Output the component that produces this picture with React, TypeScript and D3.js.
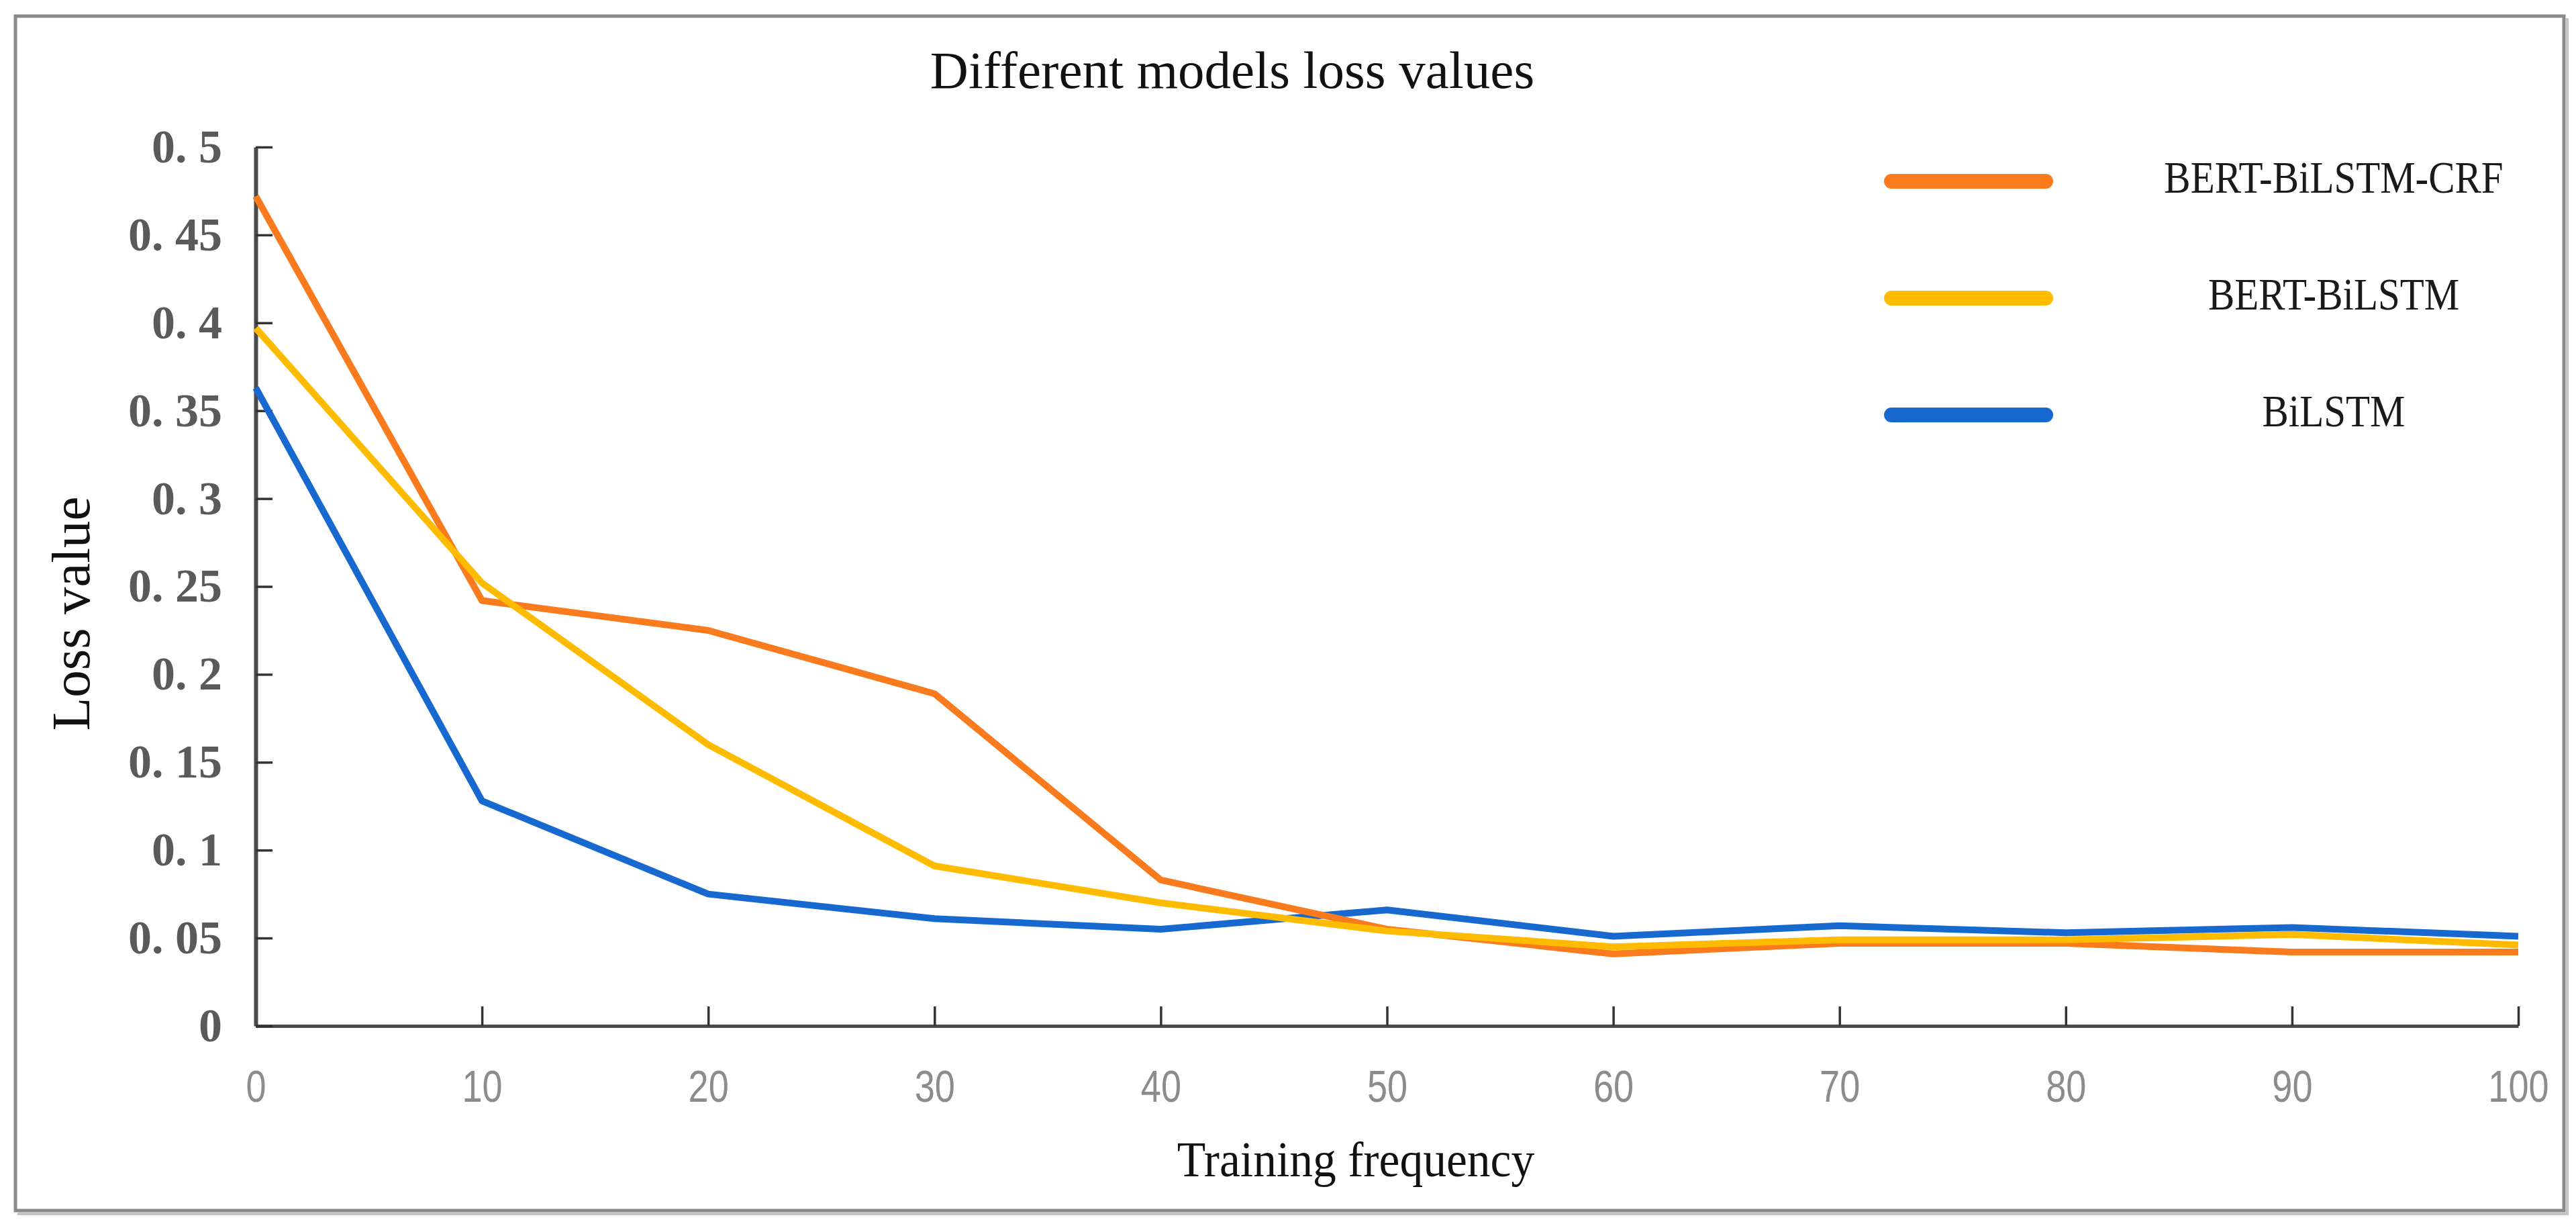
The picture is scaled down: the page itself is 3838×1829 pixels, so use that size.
import { useEffect, useRef } from 'react';
import * as d3 from 'd3';

// Training frequency (x) and loss values
const epochs = [0, 10, 20, 30, 40, 50, 60, 70, 80, 90, 100];
const crfLoss = [0.472, 0.242, 0.225, 0.189, 0.083, 0.055, 0.041, 0.047, 0.047, 0.042, 0.042];
const bertLoss = [0.397, 0.252, 0.16, 0.091, 0.07, 0.054, 0.045, 0.049, 0.049, 0.052, 0.046];
const bilstmLoss = [0.363, 0.128, 0.075, 0.061, 0.055, 0.066, 0.051, 0.057, 0.053, 0.056, 0.051];

const yTicks = [0, 0.05, 0.1, 0.15, 0.2, 0.25, 0.3, 0.35, 0.4, 0.45, 0.5];
const seriesNames = ['BERT-BiLSTM-CRF', 'BERT-BiLSTM', 'BiLSTM'];
const seriesColors = ['#FA7A1E', '#FFBB00', '#1769D0'];

const W = 3838;
const H = 1829;

export default function App() {
  const svgRef = useRef<SVGSVGElement>(null);

  useEffect(() => {
    if (!svgRef.current) return;
    const svg = d3.select(svgRef.current);
    svg.selectAll('*').remove();

    const serif = 'Liberation Serif, Times New Roman, serif';

    // outer frame
    svg.append('rect').attr('x', 0).attr('y', 0).attr('width', W).attr('height', H).attr('fill', '#fff');
    svg.append('rect')
      .attr('x', 23).attr('y', 24).attr('width', 3797).attr('height', 1779)
      .attr('fill', 'none').attr('stroke', '#8a8a8a').attr('stroke-width', 5);
    svg.append('path')
      .attr('d', 'M26,1808H3825V27')
      .attr('fill', 'none').attr('stroke', '#c4c4c4').attr('stroke-width', 4);

    const x = d3.scaleLinear().domain([0, 100]).range([381, 3752]);
    const y = d3.scaleLinear().domain([0, 0.5]).range([1528, 219]);

    // x axis, ticks pointing inward
    const gx = svg.append('g')
      .attr('transform', `translate(0,${y(0)})`)
      .call(d3.axisBottom(x).tickValues(epochs).tickSize(-29).tickSizeOuter(0).tickPadding(0));
    gx.select('.domain').attr('stroke', '#4a4a4a').attr('stroke-width', 5);
    gx.selectAll('.tick line').attr('stroke', '#333').attr('stroke-width', 3.5);
    gx.selectAll('.tick text')
      .attr('y', 89).attr('dy', '0.36em')
      .attr('fill', '#8c8c8c')
      .attr('font-size', 66)
      .attr('font-family', 'Liberation Sans, Arial, sans-serif')
      .attr('transform', 'scale(0.82,1)');

    // y axis
    const gy = svg.append('g')
      .attr('transform', `translate(${x(0)},0)`)
      .call(
        d3.axisLeft(y).tickValues(yTicks).tickSize(-25).tickSizeOuter(0).tickPadding(50)
          .tickFormat((d) => (+d === 0 ? '0' : d3.format('~g')(+d).replace('.', '. ')))
      );
    gy.select('.domain').attr('stroke', '#4a4a4a').attr('stroke-width', 6);
    gy.selectAll('.tick line').attr('stroke', '#333').attr('stroke-width', 3.5);
    gy.selectAll('.tick text')
      .attr('fill', '#5a5a5a')
      .attr('font-size', 70)
      .attr('font-weight', 'bold')
      .attr('font-family', serif);

    // series lines
    const series = [crfLoss, bertLoss, bilstmLoss];
    const line = d3.line<number>()
      .x((_, i) => x(epochs[i]))
      .y((d) => y(d));

    for (const i of [2, 0, 1]) {
      svg.append('path')
        .datum(series[i])
        .attr('d', line)
        .attr('fill', 'none')
        .attr('stroke', seriesColors[i])
        .attr('stroke-width', 10)
        .attr('stroke-linejoin', 'round');
    }

    // legend
    const legendY = d3.scalePoint<string>().domain(seriesNames).range([270, 618]);
    seriesNames.forEach((name, i) => {
      const ly = legendY(name) ?? 0;
      svg.append('line')
        .attr('x1', 2818).attr('x2', 3048).attr('y1', ly).attr('y2', ly)
        .attr('stroke', seriesColors[i]).attr('stroke-width', 22).attr('stroke-linecap', 'round');
      svg.append('text')
        .attr('transform', `translate(3477,${ly + 17}) scale(0.88,1)`)
        .attr('text-anchor', 'middle')
        .attr('font-family', serif)
        .attr('font-size', 67)
        .attr('fill', '#1a1a1a')
        .text(name);
    });

    // title and axis titles
    svg.append('text')
      .attr('x', 1836).attr('y', 131)
      .attr('text-anchor', 'middle')
      .attr('font-family', serif).attr('font-size', 79).attr('fill', '#111')
      .text('Different models loss values');

    svg.append('text')
      .attr('transform', 'translate(2020,1752) scale(0.94,1)')
      .attr('text-anchor', 'middle')
      .attr('font-family', serif).attr('font-size', 74).attr('fill', '#111')
      .text('Training frequency');

    svg.append('text')
      .attr('transform', 'translate(133,914) rotate(-90)')
      .attr('text-anchor', 'middle')
      .attr('font-family', serif).attr('font-size', 81).attr('fill', '#111')
      .text('Loss value');
  }, []);

  return (
    <div style={{ position: 'absolute', left: 0, top: 0 }}>
      <svg ref={svgRef} width={W} height={H} style={{ display: 'block' }} />
    </div>
  );
}
